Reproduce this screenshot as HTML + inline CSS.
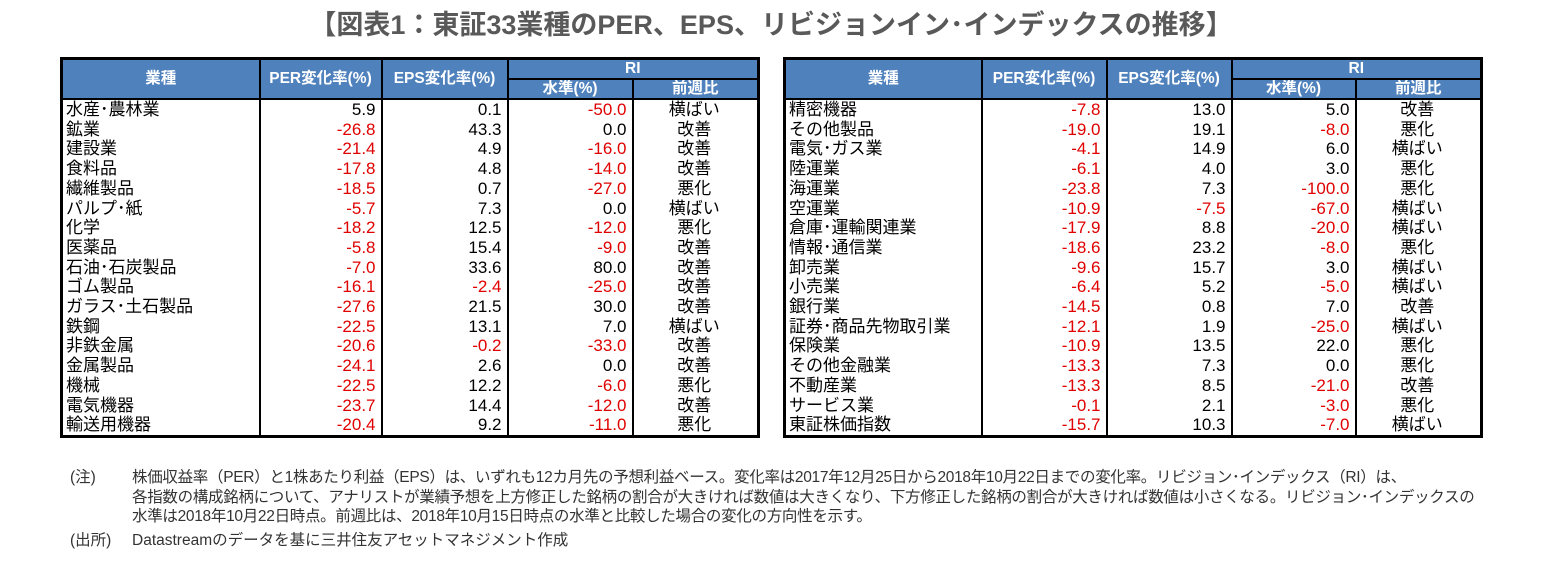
<!DOCTYPE html>
<html><head><meta charset="utf-8"><style>
body{margin:0;width:1542px;height:578px;background:#fff;position:relative;overflow:hidden;font-family:"Liberation Sans","Noto Sans CJK JP",sans-serif;}
.title{position:absolute;left:0;width:1542px;top:3px;text-align:center;font-size:27px;font-weight:bold;color:#595959;}
table{position:absolute;top:57px;border-collapse:collapse;border:3px solid #000;table-layout:fixed;}
td,th{padding:0 3px;font-size:17px;line-height:19.7px;height:19.7px;white-space:nowrap;overflow:hidden;color:#000;}
th{background:#4f81bd;color:#fff;font-size:15.5px;font-weight:bold;height:18px;line-height:18px;border:2px solid #000;text-align:center;}
td{border-left:2px solid #000;border-right:2px solid #000;text-align:right;padding-right:5px;}
td:first-child{text-align:left;padding-left:3px;}
td:last-child{text-align:center;}
.r{color:#e00000;}
.note{position:absolute;left:70px;font-size:15.5px;color:#333;line-height:19.7px;}
</style></head><body>
<div class="title">【図表1：東証33業種のPER、EPS、リビジョンイン･インデックスの推移】</div>

<table style="left:60px;width:697px">
<colgroup><col style="width:198px"><col style="width:122px"><col style="width:126px"><col style="width:125px"><col style="width:126px"></colgroup>
<tr><th rowspan="2">業種</th><th rowspan="2">PER変化率(%)</th><th rowspan="2">EPS変化率(%)</th><th colspan="2">RI</th></tr>
<tr><th>水準(%)</th><th>前週比</th></tr>
<tr><td>水産･農林業</td><td>5.9</td><td>0.1</td><td class="r">-50.0</td><td>横ばい</td></tr>
<tr><td>鉱業</td><td class="r">-26.8</td><td>43.3</td><td>0.0</td><td>改善</td></tr>
<tr><td>建設業</td><td class="r">-21.4</td><td>4.9</td><td class="r">-16.0</td><td>改善</td></tr>
<tr><td>食料品</td><td class="r">-17.8</td><td>4.8</td><td class="r">-14.0</td><td>改善</td></tr>
<tr><td>繊維製品</td><td class="r">-18.5</td><td>0.7</td><td class="r">-27.0</td><td>悪化</td></tr>
<tr><td>パルプ･紙</td><td class="r">-5.7</td><td>7.3</td><td>0.0</td><td>横ばい</td></tr>
<tr><td>化学</td><td class="r">-18.2</td><td>12.5</td><td class="r">-12.0</td><td>悪化</td></tr>
<tr><td>医薬品</td><td class="r">-5.8</td><td>15.4</td><td class="r">-9.0</td><td>改善</td></tr>
<tr><td>石油･石炭製品</td><td class="r">-7.0</td><td>33.6</td><td>80.0</td><td>改善</td></tr>
<tr><td>ゴム製品</td><td class="r">-16.1</td><td class="r">-2.4</td><td class="r">-25.0</td><td>改善</td></tr>
<tr><td>ガラス･土石製品</td><td class="r">-27.6</td><td>21.5</td><td>30.0</td><td>改善</td></tr>
<tr><td>鉄鋼</td><td class="r">-22.5</td><td>13.1</td><td>7.0</td><td>横ばい</td></tr>
<tr><td>非鉄金属</td><td class="r">-20.6</td><td class="r">-0.2</td><td class="r">-33.0</td><td>改善</td></tr>
<tr><td>金属製品</td><td class="r">-24.1</td><td>2.6</td><td>0.0</td><td>改善</td></tr>
<tr><td>機械</td><td class="r">-22.5</td><td>12.2</td><td class="r">-6.0</td><td>悪化</td></tr>
<tr><td>電気機器</td><td class="r">-23.7</td><td>14.4</td><td class="r">-12.0</td><td>改善</td></tr>
<tr><td>輸送用機器</td><td class="r">-20.4</td><td>9.2</td><td class="r">-11.0</td><td>悪化</td></tr>
</table>

<table style="left:783px;width:697px">
<colgroup><col style="width:197px"><col style="width:125px"><col style="width:125px"><col style="width:124px"><col style="width:126px"></colgroup>
<tr><th rowspan="2">業種</th><th rowspan="2">PER変化率(%)</th><th rowspan="2">EPS変化率(%)</th><th colspan="2">RI</th></tr>
<tr><th>水準(%)</th><th>前週比</th></tr>
<tr><td>精密機器</td><td class="r">-7.8</td><td>13.0</td><td>5.0</td><td>改善</td></tr>
<tr><td>その他製品</td><td class="r">-19.0</td><td>19.1</td><td class="r">-8.0</td><td>悪化</td></tr>
<tr><td>電気･ガス業</td><td class="r">-4.1</td><td>14.9</td><td>6.0</td><td>横ばい</td></tr>
<tr><td>陸運業</td><td class="r">-6.1</td><td>4.0</td><td>3.0</td><td>悪化</td></tr>
<tr><td>海運業</td><td class="r">-23.8</td><td>7.3</td><td class="r">-100.0</td><td>悪化</td></tr>
<tr><td>空運業</td><td class="r">-10.9</td><td class="r">-7.5</td><td class="r">-67.0</td><td>横ばい</td></tr>
<tr><td>倉庫･運輸関連業</td><td class="r">-17.9</td><td>8.8</td><td class="r">-20.0</td><td>横ばい</td></tr>
<tr><td>情報･通信業</td><td class="r">-18.6</td><td>23.2</td><td class="r">-8.0</td><td>悪化</td></tr>
<tr><td>卸売業</td><td class="r">-9.6</td><td>15.7</td><td>3.0</td><td>横ばい</td></tr>
<tr><td>小売業</td><td class="r">-6.4</td><td>5.2</td><td class="r">-5.0</td><td>横ばい</td></tr>
<tr><td>銀行業</td><td class="r">-14.5</td><td>0.8</td><td>7.0</td><td>改善</td></tr>
<tr><td>証券･商品先物取引業</td><td class="r">-12.1</td><td>1.9</td><td class="r">-25.0</td><td>横ばい</td></tr>
<tr><td>保険業</td><td class="r">-10.9</td><td>13.5</td><td>22.0</td><td>悪化</td></tr>
<tr><td>その他金融業</td><td class="r">-13.3</td><td>7.3</td><td>0.0</td><td>悪化</td></tr>
<tr><td>不動産業</td><td class="r">-13.3</td><td>8.5</td><td class="r">-21.0</td><td>改善</td></tr>
<tr><td>サービス業</td><td class="r">-0.1</td><td>2.1</td><td class="r">-3.0</td><td>悪化</td></tr>
<tr><td>東証株価指数</td><td class="r">-15.7</td><td>10.3</td><td class="r">-7.0</td><td>横ばい</td></tr>
</table>

<div class="note" style="top:468px">(注)</div>
<div class="note" style="left:132px;top:468px;width:1400px;letter-spacing:-0.3px">株価収益率（PER）と1株あたり利益（EPS）は、いずれも12カ月先の予想利益ベース。変化率は2017年12月25日から2018年10月22日までの変化率。リビジョン･インデックス（RI）は、<br>各指数の構成銘柄について、アナリストが業績予想を上方修正した銘柄の割合が大きければ数値は大きくなり、下方修正した銘柄の割合が大きければ数値は小さくなる。リビジョン･インデックスの<br>水準は2018年10月22日時点。前週比は、2018年10月15日時点の水準と比較した場合の変化の方向性を示す。</div>
<div class="note" style="top:531px">(出所)</div>
<div class="note" style="left:132px;top:531px">Datastreamのデータを基に三井住友アセットマネジメント作成</div>
</body></html>
